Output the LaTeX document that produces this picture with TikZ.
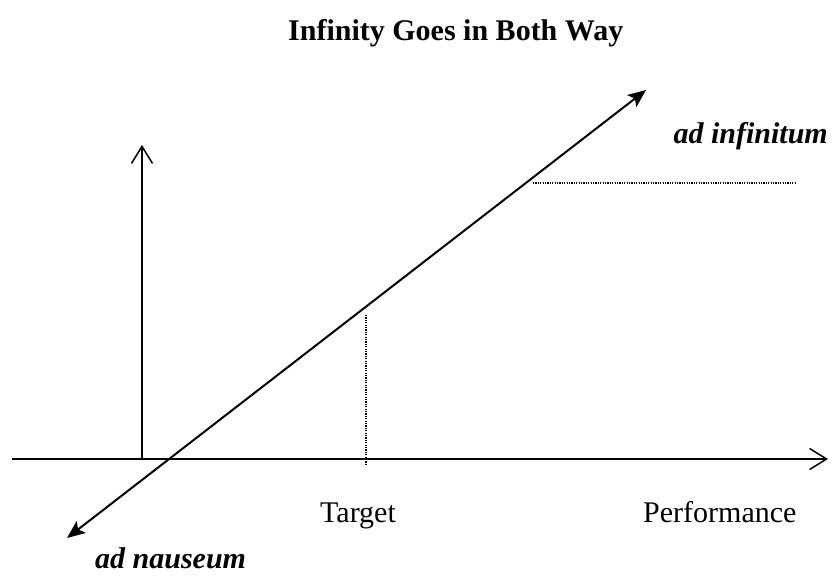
\documentclass[tikz,border=0pt]{standalone}
\usepackage{fontspec}
\setmainfont{Liberation Serif}
\usetikzlibrary{arrows.meta}

\begin{document}
\begin{tikzpicture}[x=1pt,y=-1pt,
  axis/.style={line width=1.5pt,-{Straight Barb[length=17pt,width=21pt,line width=1.5pt]}},
  trend/.style={line width=2pt,{Stealth[length=18pt,width=15pt,inset=4pt]}-{Stealth[length=18pt,width=15pt,inset=4pt]}},
  guide/.style={line width=1.2pt,dash pattern=on 1.2pt off 1.2pt},
  lbl/.style={inner sep=0pt,anchor=base west,font=\fontsize{30}{36}\selectfont},
  bit/.style={inner sep=0pt,anchor=base west,font=\fontsize{30}{36}\selectfont\bfseries\itshape}]
\useasboundingbox (0,0) rectangle (832,576);
% axes
\coordinate (xs) at (12,459);
\coordinate (xe) at (828,459);
\coordinate (ys) at (142,459);
\coordinate (ye) at (142,145);
\draw[axis] (xs) -- (xe);
\draw[axis] (ys) -- (ye);
% the line, both ways
\coordinate (lo) at (67,538);
\coordinate (hi) at (646,90);
\draw[trend] (lo) -- (hi);
% guides
\coordinate (tt) at (366,315);
\coordinate (tb) at (366,464);
\draw[guide] (tt) -- (tb);
\coordinate (gl) at (533,183);
\coordinate (gr) at (796,183);
\draw[guide] (gl) -- (gr);
% texts
\node[lbl,font=\fontsize{30}{36}\selectfont\bfseries] (title) at (288,40) {Infinity Goes in Both Way};
\node[bit,anchor=base east] (infin) at (828,143) {ad infinitum};
\node[bit] (naus) at (95,568) {ad nauseum};
\node[lbl] (target) at (320,522) {Target};
\node[lbl] (perf) at (643,522) {Performance};
\end{tikzpicture}
\end{document}
